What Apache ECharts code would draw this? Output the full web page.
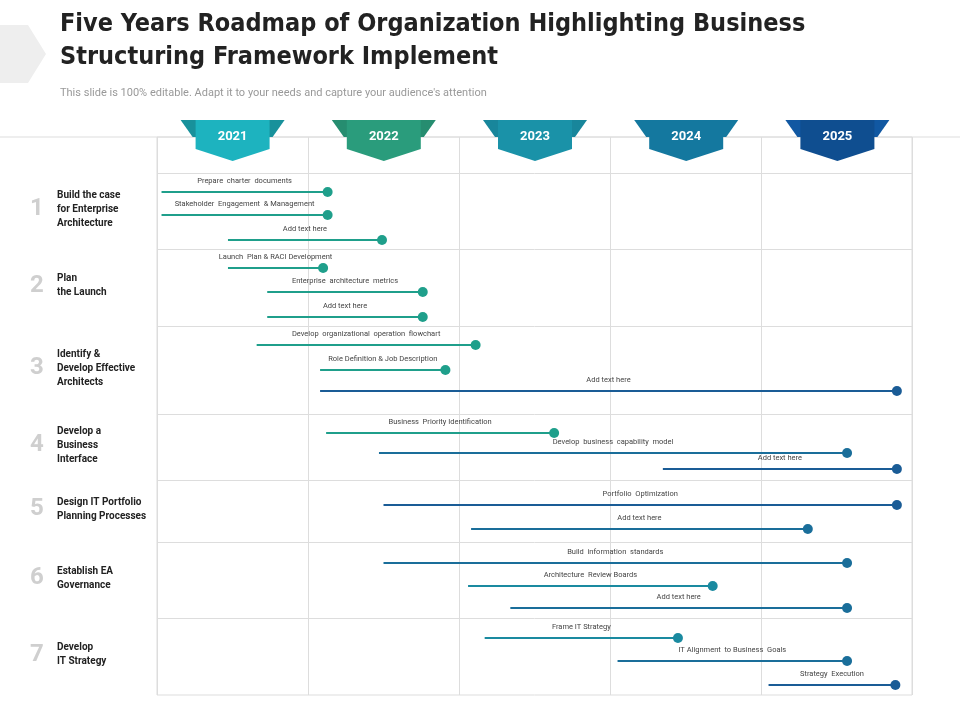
<!DOCTYPE html>
<html lang="en">
<head>
<meta charset="UTF-8">
<title>Five Years Roadmap</title>
<script src="https://cdn.jsdelivr.net/npm/echarts@6.0.0/dist/echarts.min.js"></script>
<style>html,body{margin:0;padding:0;background:#fff}#main{width:960px;height:720px}</style>
</head>
<body>
<div id="main"></div>
<script>
// years on the header
var years = ['2021', '2022', '2023', '2024', '2025'];
var yearColors = ['#1db3bf', '#2a9c7c', '#1a92a8', '#14789f', '#0f4e90'];

// tasks: start / end in year units, lane = vertical position (0 = top of the chart)
var taskNames = ['Prepare  charter  documents', 'Stakeholder  Engagement  & Management', 'Add text here',
  'Launch  Plan & RACI Development', 'Enterprise  architecture  metrics', 'Add text here',
  'Develop  organizational  operation  flowchart', 'Role Definition & Job Description', 'Add text here',
  'Business  Priority Identification', 'Develop  business  capability  model', 'Add text here',
  'Portfolio  Optimization', 'Add text here',
  'Build  information  standards', 'Architecture  Review Boards', 'Add text here',
  'Frame IT Strategy', 'IT Alignment  to Business  Goals', 'Strategy  Execution'];
var taskStart = [2021.03, 2021.03, 2021.47, 2021.47, 2021.73, 2021.73, 2021.66, 2022.08, 2022.08,
  2022.12, 2022.47, 2024.35, 2022.50, 2023.08, 2022.50, 2023.06, 2023.34, 2023.17, 2024.05, 2025.05];
var taskEnd = [2022.13, 2022.13, 2022.49, 2022.10, 2022.76, 2022.76, 2023.11, 2022.91, 2025.90,
  2023.63, 2025.57, 2025.90, 2025.90, 2025.31, 2025.57, 2024.68, 2025.57, 2024.45, 2025.57, 2025.89];
var taskLane = [55, 78, 103, 131, 155, 180, 208, 233, 254, 296, 316, 332, 368, 392, 426, 449, 471, 501, 524, 548];

// row groups
var groupNames = ['Build the case\nfor Enterprise\nArchitecture', 'Plan\nthe Launch', 'Identify &\nDevelop Effective\nArchitects',
  'Develop a\nBusiness\nInterface', 'Design IT Portfolio\nPlanning Processes', 'Establish EA\nGovernance', 'Develop\nIT Strategy'];
var groupBounds = [36, 112, 189, 277, 343, 405, 481, 558];

function colorFor(end) {
  if (end < 2023.8) return '#1f9f8b';
  if (end < 2025) return '#1a8aa0';
  if (end < 2025.7) return '#1a6e9a';
  return '#1a5c96';
}

var data = taskNames.map(function (n, i) { return [taskStart[i], taskEnd[i], taskLane[i], n]; });

var graphics = [
  { type: 'polygon', shape: { points: [[0, 25], [28, 25], [46, 54], [28, 83], [0, 83]] }, style: { fill: '#eeeeee' } },
  { type: 'text', left: 60, top: 8, style: { text: 'Five Years Roadmap of Organization Highlighting Business\nStructuring Framework Implement', font: 'bold 25px "Liberation Sans Narrow", "DejaVu Sans Condensed", sans-serif', fill: '#222', lineHeight: 33 } },
  { type: 'text', left: 60, top: 88, style: { text: "This slide is 100% editable. Adapt it to your needs and capture your audience's attention", font: '11px Roboto, sans-serif', fill: '#999' } },
  { type: 'line', shape: { x1: 0, y1: 137, x2: 960, y2: 137 }, style: { stroke: '#ddd', lineWidth: 1 } }
];
years.forEach(function (y, i) {
  var cx = 157 + 151.2 * (i + 0.5);
  graphics.push({ type: 'polygon', shape: { points: [[cx - 52, 120], [cx + 52, 120], [cx + 40, 137], [cx - 40, 137]] }, style: { fill: echarts.color.modifyHSL(yearColors[i], null, null, 0.35) }, z: 5 });
  graphics.push({ type: 'polygon', shape: { points: [[cx - 37, 120], [cx + 37, 120], [cx + 37, 149], [cx, 161], [cx - 37, 149]] }, style: { fill: yearColors[i] }, z: 6 });
  graphics.push({ type: 'text', x: cx, y: 137, style: { text: y, align: 'center', verticalAlign: 'middle', font: 'bold 13px Roboto, sans-serif', fill: '#fff' }, z: 7 });
});
groupNames.forEach(function (g, i) {
  var cy = 137 + (groupBounds[i] + groupBounds[i + 1]) / 2 - 2;
  graphics.push({ type: 'text', x: 37, y: cy, style: { text: String(i + 1), align: 'center', verticalAlign: 'middle', font: 'bold 24px Roboto, sans-serif', fill: '#cfcfcf' } });
  graphics.push({ type: 'text', x: 57, y: cy, style: { text: g, verticalAlign: 'middle', font: 'bold 10px Roboto, sans-serif', fill: '#222', lineHeight: 14 } });
});

var chart = echarts.init(document.getElementById('main'));
chart.setOption({
  animation: false,
  graphic: graphics,
  grid: { left: 157, right: 48, top: 137, bottom: 25, show: true, borderColor: '#ddd' },
  xAxis: { type: 'value', min: 2021, max: 2026, interval: 1, axisLabel: { show: false }, axisLine: { show: false }, axisTick: { show: false }, splitLine: { lineStyle: { color: '#ddd' } } },
  yAxis: { type: 'value', min: 0, max: 558, inverse: true, show: false, splitLine: { show: false } },
  series: [{
    type: 'custom',
    data: data,
    encode: { x: [0, 1], y: 2 },
    markLine: { silent: true, symbol: 'none', label: { show: false }, lineStyle: { color: '#ddd', type: 'solid', width: 1 },
      data: groupBounds.slice(0, -1).map(function (b) { return { yAxis: b }; }) },
    renderItem: function (params, api) {
      var s = api.coord([api.value(0), api.value(2)]);
      var e = api.coord([api.value(1), api.value(2)]);
      var c = colorFor(api.value(1));
      return { type: 'group', children: [
        { type: 'line', shape: { x1: s[0], y1: s[1], x2: e[0], y2: e[1] }, style: { stroke: c, lineWidth: 2 } },
        { type: 'circle', shape: { cx: e[0], cy: e[1], r: 5 }, style: { fill: c } },
        { type: 'text', x: (s[0] + e[0]) / 2, y: s[1] - 7, style: { text: taskNames[params.dataIndex], align: 'center', verticalAlign: 'bottom', font: '7.5px Roboto, sans-serif', fill: '#444' } }
      ] };
    }
  }]
});
</script>
</body>
</html>
